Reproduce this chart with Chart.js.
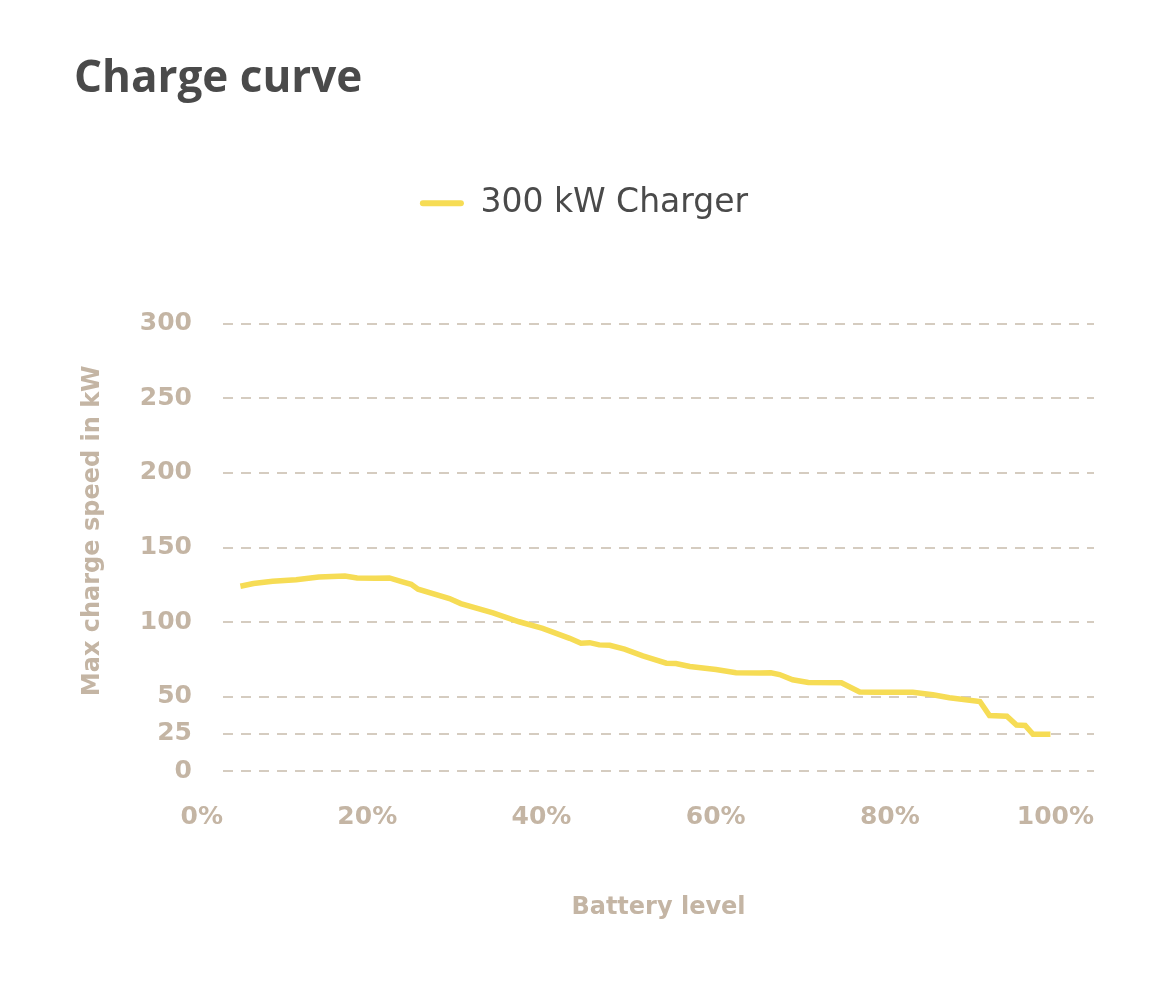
<!DOCTYPE html>
<html>
<head>
<meta charset="utf-8">
<title>Charge curve</title>
<script src="https://cdn.jsdelivr.net/npm/chart.js@4.4.0/dist/chart.umd.min.js"></script>
<style>
  html, body { margin: 0; padding: 0; background: #ffffff; }
  #wrap { position: relative; width: 1170px; height: 994px; }
</style>
</head>
<body>
<div id="wrap"><canvas id="grafico-carga"></canvas></div>
<script>
// dados
const batteryLevel = [2, 3.5, 5.7, 8.4, 11, 14, 15.4, 17.5, 19.1, 20.6, 21.6, 22.4, 26, 27.3, 31, 34,
  36.7, 39.8, 41.1, 42.1, 43.2, 44.4, 46.1, 48.2, 50.9, 52, 53.6, 56.6, 58.9, 61.6, 62.9, 63.9,
  65.4, 67.2, 71, 73.1, 75, 79.2, 81.5, 83.4, 86.9, 88, 90, 91.1, 92.1, 93, 95];
const chargeKw = [124, 125.8, 127.3, 128.4, 130.2, 130.9, 129.6, 129.3, 129.6, 127, 125.3, 122, 115.8, 112.4, 106.2, 100.2,
  95.8, 89.1, 85.8, 86.2, 84.7, 84.4, 81.8, 77.3, 72.4, 72.2, 70.2, 68.2, 66, 65.8, 66, 64.8,
  61.3, 59.5, 59.3, 53.1, 52.9, 52.9, 51.3, 49.3, 46.7, 37.3, 36.9, 30.9, 30.7, 24.7, 24.7];
const yTicks = [0, 25, 50, 100, 150, 200, 250, 300];
const xTicks = [0, 20, 40, 60, 80, 100];

const corLabel = '#c4b5a4';
const corGrade = '#d5ccc0';
const corLinha = '#f6dc55';

// espaço extra abaixo da legenda
const legendaMargem = {
  id: 'legendaMargem',
  beforeInit(chart) {
    const fitOriginal = chart.legend.fit;
    chart.legend.fit = function () {
      fitOriginal.bind(this)();
      this.height += 94;
    };
  }
};

const ctx = document.getElementById('grafico-carga').getContext('2d');
new Chart(ctx, {
  type: 'line',
  data: {
    datasets: [{
      label: '300 kW Charger',
      data: batteryLevel.map((b, i) => ({ x: b, y: chargeKw[i] })),
      borderColor: corLinha,
      backgroundColor: corLinha,
      borderWidth: 5.5,
      pointRadius: 0,
      tension: 0
    }]
  },
  options: {
    responsive: true,
    maintainAspectRatio: false,
    animation: false,
    layout: {
      padding: { top: 0, left: 74, right: 76, bottom: 68 }
    },
    plugins: {
      title: {
        display: true,
        text: 'Charge curve',
        align: 'start',
        color: '#4a4a4a',
        font: { family: '"Open Sans", sans-serif', size: 44, weight: '700' },
        padding: { top: 53, bottom: 71 }
      },
      legend: {
        position: 'top',
        labels: {
          color: '#4a4a4a',
          font: { family: '"DejaVu Sans", sans-serif', size: 33, weight: '400' },
          boxWidth: 44,
          boxHeight: 6,
          useBorderRadius: true,
          borderRadius: 3,
          generateLabels: chart => Chart.defaults.plugins.legend.labels.generateLabels(chart)
            .map(l => ({ ...l, lineWidth: 0 }))
        }
      },
      tooltip: { enabled: false }
    },
    scales: {
      x: {
        type: 'linear',
        min: 0,
        max: 100,
        afterBuildTicks: scale => { scale.ticks = xTicks.map(v => ({ value: v })); },
        grid: { display: false, drawTicks: false },
        border: { display: false },
        ticks: {
          autoSkip: false,
          maxRotation: 0,
          align: 'end',
          padding: 31,
          color: corLabel,
          font: { family: '"DejaVu Sans", sans-serif', size: 25, weight: 'bold' },
          callback: v => v + '%'
        },
        title: {
          display: true,
          text: 'Battery level',
          color: corLabel,
          font: { family: '"DejaVu Sans", sans-serif', size: 24, weight: 'bold' },
          padding: { top: 30, bottom: 4 }
        }
      },
      y: {
        min: 0,
        max: 300,
        afterBuildTicks: scale => { scale.ticks = yTicks.map(v => ({ value: v })); },
        grid: { color: corGrade, lineWidth: 2, drawTicks: false },
        border: { display: false, dash: [10, 8] },
        ticks: {
          autoSkip: false,
          padding: 31,
          color: corLabel,
          font: { family: '"DejaVu Sans", sans-serif', size: 25, weight: 'bold' }
        },
        title: {
          display: true,
          text: '    Max charge speed in kW',
          color: corLabel,
          font: { family: '"DejaVu Sans", sans-serif', size: 24, weight: 'bold' },
          padding: { top: 4, bottom: 2 }
        }
      }
    }
  },
  plugins: [legendaMargem]
});
</script>
</body>
</html>
